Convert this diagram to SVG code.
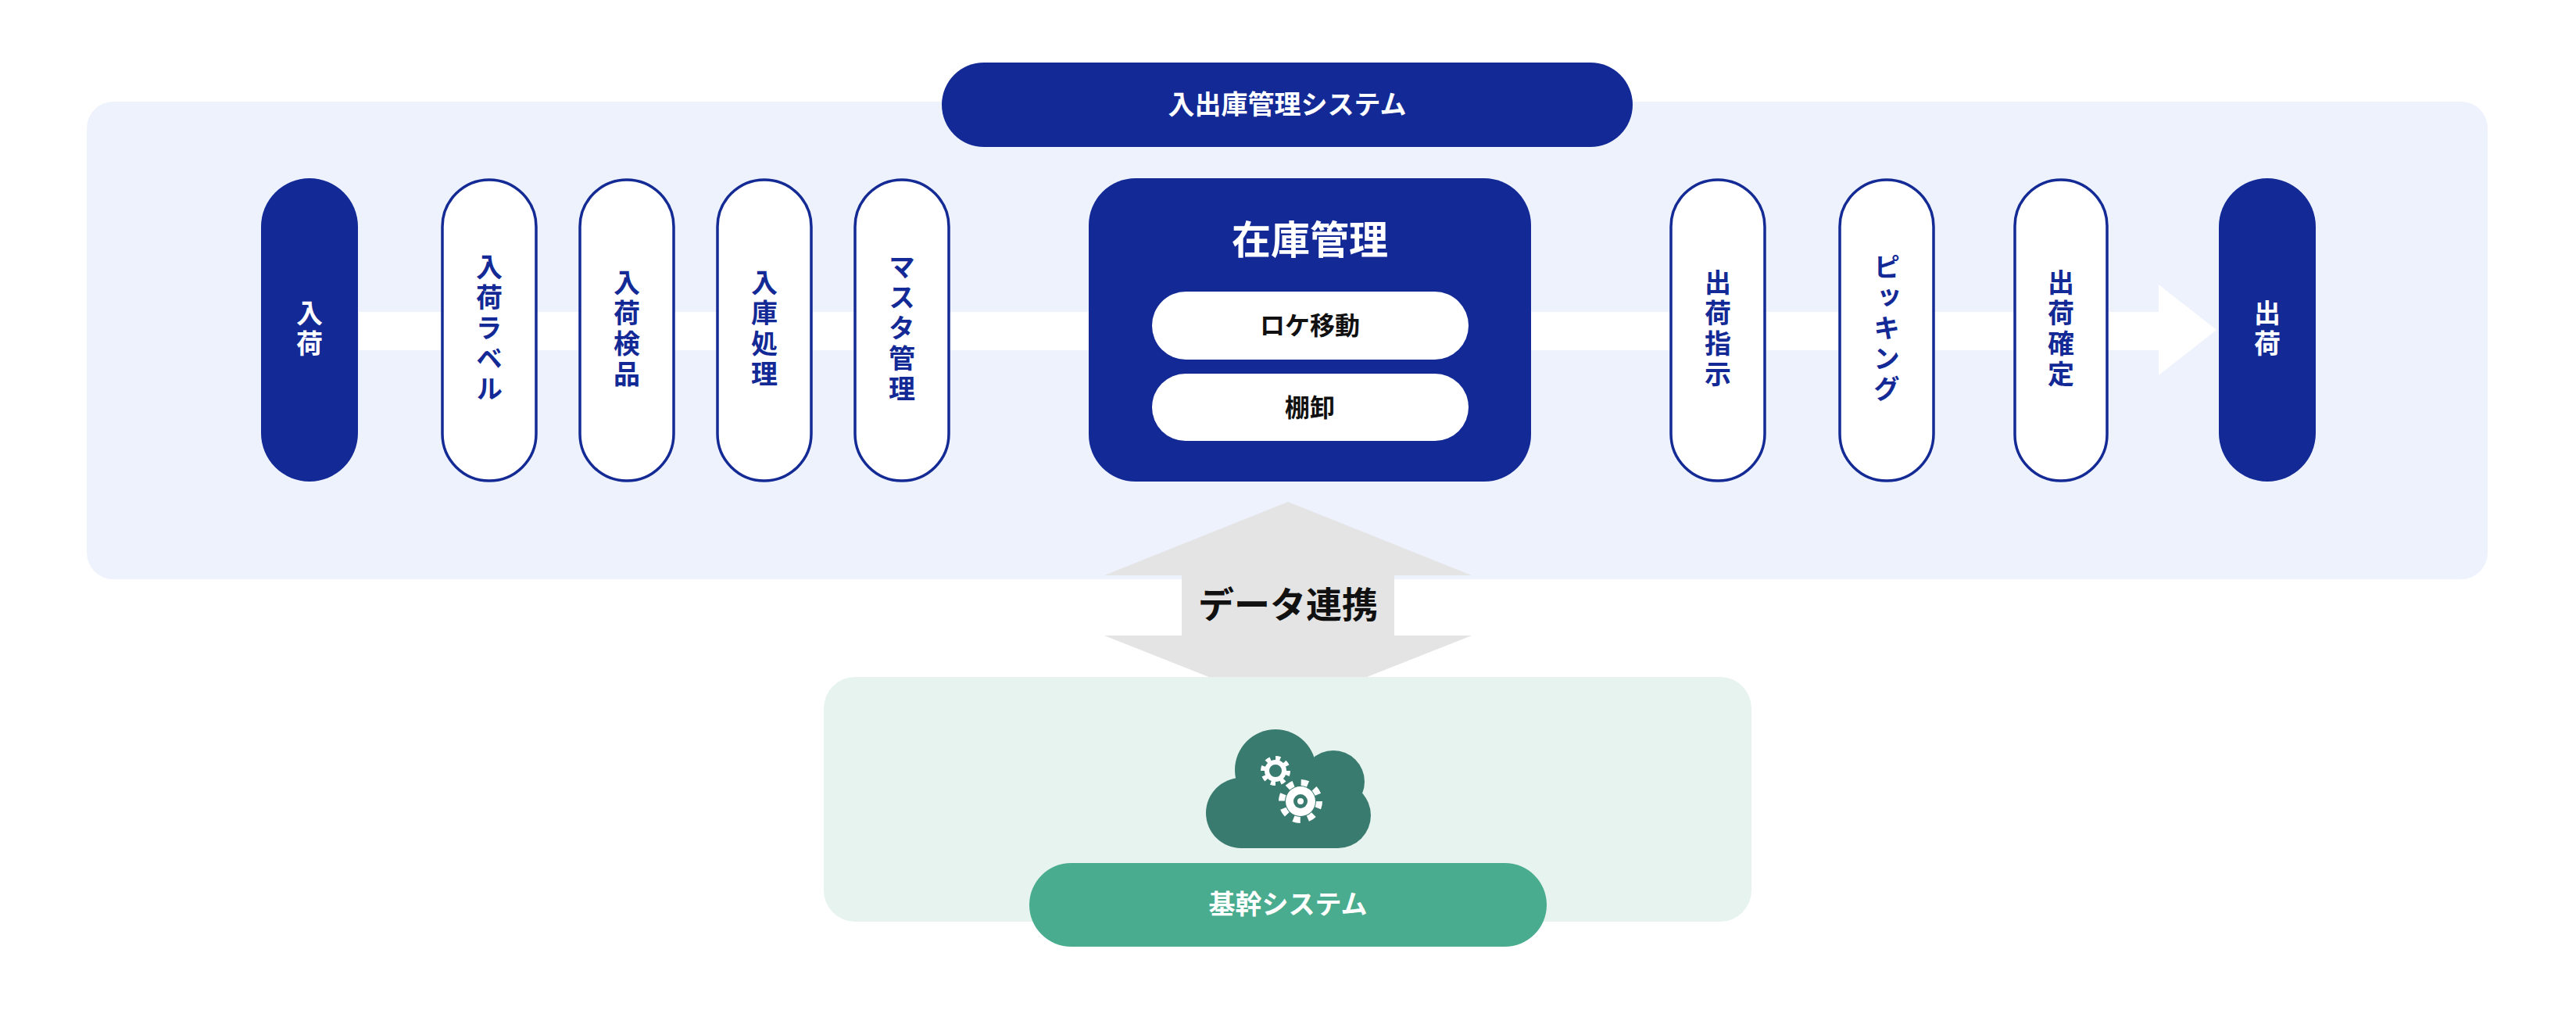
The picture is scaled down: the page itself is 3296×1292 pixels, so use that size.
<svg xmlns="http://www.w3.org/2000/svg" width="3296" height="1292" viewBox="0 0 3296 1292">
<style>
text{font-family:"Noto Sans CJK JP","Noto Sans",sans-serif;font-weight:700;text-anchor:middle}
.wp{fill:#fff;stroke:#142a94;stroke-width:3.5}
.dp{fill:#132a96}
.vt{font-size:34px;fill:#132a96;writing-mode:vertical-rl;letter-spacing:5px;dominant-baseline:central}
.vw{fill:#fff}
</style>
<rect x="0" y="0" width="3296" height="1292" fill="#fff"/>
<rect id="panel" x="111" y="130" width="3072" height="611" rx="34" fill="#edf2fd"/>
<g id="connectors">
<rect x="459" y="399" width="2305" height="49" fill="#fff"/>
<polygon points="2762,364 2836,422 2762,480" fill="#fff"/>
<polygon points="1648,642 1883,736 1784,736 1784,813 1883,813 1648,906 1413,813 1512,813 1512,736 1413,736" fill="#e4e4e4"/>
<text x="1648" y="790" font-size="46" fill="#111">データ連携</text>
</g>
<g id="title"><rect x="1205" y="80" width="884" height="108" rx="54" fill="#132a96"/><text x="1647" y="146" font-size="34" fill="#fff">入出庫管理システム</text></g>
<g id="n1"><rect class="dp" x="334" y="228" width="124" height="388" rx="62"/><text class="vt vw" x="396" y="422">入荷</text></g>
<g id="n2"><rect class="wp" x="566" y="230" width="120" height="385" rx="60"/><text class="vt" x="626" y="422">入荷ラベル</text></g>
<g id="n3"><rect class="wp" x="742" y="230" width="120" height="385" rx="60"/><text class="vt" x="802" y="422">入荷検品</text></g>
<g id="n4"><rect class="wp" x="918" y="230" width="120" height="385" rx="60"/><text class="vt" x="978" y="422">入庫処理</text></g>
<g id="n5"><rect class="wp" x="1094" y="230" width="120" height="385" rx="60"/><text class="vt" x="1154" y="422">マスタ管理</text></g>
<g id="zaiko"><rect class="dp" x="1393" y="228" width="566" height="388" rx="60"/>
<text x="1676" y="325" font-size="50" fill="#fff">在庫管理</text>
<rect x="1474" y="373" width="405" height="87" rx="43.5" fill="#fff"/><text x="1676" y="428" font-size="32" fill="#111">ロケ移動</text>
<rect x="1474" y="478" width="405" height="86" rx="43" fill="#fff"/><text x="1676" y="533" font-size="32" fill="#111">棚卸</text></g>
<g id="n6"><rect class="wp" x="2138" y="230" width="120" height="385" rx="60"/><text class="vt" x="2198" y="422">出荷指示</text></g>
<g id="n7"><rect class="wp" x="2354" y="230" width="120" height="385" rx="60"/><text class="vt" x="2414" y="422">ピッキング</text></g>
<g id="n8"><rect class="wp" x="2578" y="230" width="118" height="385" rx="59"/><text class="vt" x="2637" y="422">出荷確定</text></g>
<g id="n9"><rect class="dp" x="2839" y="228" width="124" height="388" rx="62"/><text class="vt vw" x="2901" y="422">出荷</text></g>
<rect id="kikan-panel" x="1054" y="866" width="1187" height="313" rx="40" fill="#e6f3ee"/>
<g id="cloud" fill="#3a7b6f">
<circle cx="1632" cy="985" r="52"/><circle cx="1706" cy="1000" r="40"/><circle cx="1712" cy="1043" r="42"/><circle cx="1588" cy="1040" r="45"/>
<rect x="1588" y="990" width="124" height="95"/>
<circle cx="1632" cy="986" r="11" fill="none" stroke="#fff" stroke-width="6"/>
<circle cx="1632" cy="986" r="16" fill="none" stroke="#fff" stroke-width="6" stroke-dasharray="6 6.5"/>
<circle cx="1664" cy="1025" r="19" fill="#fff"/>
<circle cx="1664" cy="1025" r="24" fill="none" stroke="#fff" stroke-width="8" stroke-dasharray="9 9.85"/>
<circle cx="1664" cy="1025" r="9" fill="#3a7b6f"/>
<circle cx="1664" cy="1025" r="4" fill="#fff"/>
</g>
<g id="kikan"><rect x="1317" y="1104" width="662" height="107" rx="53.5" fill="#4aac8f"/><text x="1648" y="1169" font-size="34" fill="#fff">基幹システム</text></g>
</svg>
